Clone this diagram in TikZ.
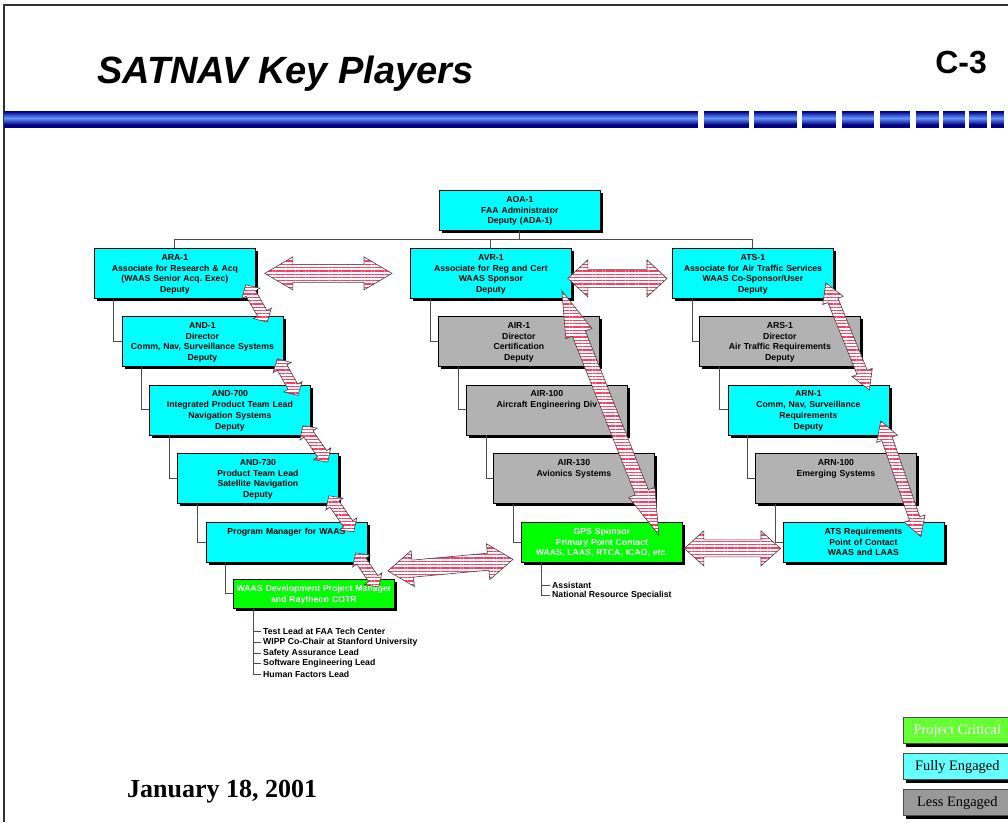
\documentclass[tikz,border=0pt]{standalone}
\usepackage{fontspec}
\setmainfont{Liberation Sans}
\newfontfamily\romanfont{Liberation Serif}
\frenchspacing
\usetikzlibrary{calc,shadows,patterns.meta}

\definecolor{boxcyan}{RGB}{0,255,255}
\definecolor{boxgray}{RGB}{178,178,178}
\definecolor{boxgreen}{RGB}{0,255,0}
\definecolor{legendgreen}{RGB}{102,255,51}
\definecolor{legendcyan}{RGB}{102,255,255}
\definecolor{legendgray}{RGB}{153,153,153}
\definecolor{bardark}{RGB}{0,0,128}
\definecolor{barlight}{RGB}{100,150,255}
\definecolor{stripecol}{RGB}{255,60,95}

\tikzset{
  orgbox/.style={draw=black, line width=0.8pt, anchor=north west, inner xsep=0pt, inner ysep=0pt,
    text width=161pt, align=center, text height=12pt,
    font=\fontsize{8.7}{10.7}\selectfont\bfseries,
    drop shadow={shadow xshift=3pt, shadow yshift=-3pt, fill=black, opacity=1}},
  tallbox/.style={orgbox, text depth=38pt},
  midbox/.style={orgbox, text depth=28pt},
  lowbox/.style={orgbox, text depth=17pt},
  orgline/.style={draw=black!70, line width=1pt},
  listitem/.style={anchor=west, inner xsep=2pt, inner ysep=0.5pt, font=\fontsize{8.7}{10.7}\selectfont\bfseries},
  legendbox/.style={draw=black!70, line width=0.6pt, anchor=north west, minimum width=108pt, minimum height=26pt,
    inner sep=0pt, font=\romanfont\fontsize{14.4}{16}\selectfont,
    drop shadow={shadow xshift=3pt, shadow yshift=-3pt, fill=black, opacity=1}},
  stripes/.style={draw=black!75, line width=0.6pt, preaction={fill=white},
    pattern={Lines[angle=0, distance=3.3pt, line width=1.3pt]}, pattern color=stripecol}
}

% two headed block arrow: start, end, head length, head half width, shaft half width
\newcommand{\stripedarrow}[5]{%
  \coordinate (hA) at ($(#1)!#3!(#2)$);
  \coordinate (hB) at ($(#2)!#3!(#1)$);
  \draw[stripes] (#1) -- ($(hA)!#4!90:(#2)$) -- ($(hA)!#5!90:(#2)$)
    -- ($(hB)!#5!-90:(#1)$) -- ($(hB)!#4!-90:(#1)$) -- (#2)
    -- ($(hB)!#4!90:(#1)$) -- ($(hB)!#5!90:(#1)$)
    -- ($(hA)!#5!-90:(#2)$) -- ($(hA)!#4!-90:(#2)$) -- cycle;}

\begin{document}
\begin{tikzpicture}[x=1pt, y=-1pt]
  \useasboundingbox (0,0) rectangle (1008,822);

  % frame and header
  \draw[black!80, line width=1.2pt] (4,822) -- (4,5) -- (1012,5);
  \node[anchor=base west, inner sep=0pt] (title) at (97,83) {\fontsize{38}{40}\selectfont\bfseries\itshape SATNAV Key Players};
  \node[anchor=base east, inner sep=0pt] (pagenum) at (987,73) {\fontsize{32}{34}\selectfont\bfseries C-3};
  % header bar, dark at the edges and light in the middle
  \foreach \i in {0,...,16}{
    \pgfmathsetmacro{\p}{max(0,100-15*abs(\i-7))}
    \fill[barlight!\p!bardark] (4,111+\i) rectangle (698,112+\i); %long bar
    \foreach \a/\b in {704/749, 754/797, 802/836, 842/874, 880/910, 916/939, 943/965, 969/987, 991/1004}
      \fill[barlight!\p!bardark] (\a,111+\i) rectangle (\b,112+\i);
  }

  % top of the tree
  \node[midbox, fill=boxcyan] (aoa) at (439,190) {AOA-1\\FAA Administrator\\Deputy (ADA-1)};
  \node[tallbox, fill=boxcyan] (ara) at (94,248) {ARA-1\\Associate for Research \& Acq\\(WAAS Senior Acq. Exec)\\Deputy};
  \node[tallbox, fill=boxcyan] (avr) at (410,248) {AVR-1\\Associate for Reg and Cert\\WAAS Sponsor\\Deputy};
  \node[tallbox, fill=boxcyan] (ats) at (672,248) {ATS-1\\Associate for Air Traffic Services\\WAAS Co-Sponsor/User\\Deputy};

  % left column
  \node[tallbox, fill=boxcyan] (and1) at (121.5,316) {AND-1\\Director\\Comm, Nav, Surveillance Systems\\Deputy};
  \node[tallbox, fill=boxcyan] (and700) at (149,384.5) {AND-700\\Integrated Product Team Lead\\Navigation Systems\\Deputy};
  \node[tallbox, fill=boxcyan] (and730) at (177,453) {AND-730\\Product Team Lead\\Satellite Navigation\\Deputy};
  \node[midbox, fill=boxcyan] (pm) at (205.5,522) {Program Manager for WAAS};
  \node[lowbox, fill=boxgreen, text=white] (waas) at (233,579) {WAAS Development Project Manager\\and Raytheon COTR};

  % middle column
  \node[tallbox, fill=boxgray] (air1) at (438,316) {AIR-1\\Director\\Certification\\Deputy};
  \node[tallbox, fill=boxgray] (air100) at (466,384.5) {AIR-100\\Aircraft Engineering Div};
  \node[tallbox, fill=boxgray] (air130) at (493,453) {AIR-130\\Avionics Systems};
  \node[midbox, fill=boxgreen, text=white] (gps) at (521,522) {GPS Sponsor\\Primary Point Contact\\WAAS, LAAS, RTCA, ICAO, etc.};

  % right column
  \node[tallbox, fill=boxgray] (ars1) at (699,316) {ARS-1\\Director\\Air Traffic Requirements\\Deputy};
  \node[tallbox, fill=boxcyan] (arn1) at (727.5,384.5) {ARN-1\\Comm, Nav, Surveillance\\Requirements\\Deputy};
  \node[tallbox, fill=boxgray] (arn100) at (755,453) {ARN-100\\Emerging Systems};
  \node[midbox, fill=boxcyan] (atsreq) at (782.5,522) {ATS Requirements\\Point of Contact\\WAAS and LAAS};

  % tree lines
  \draw[orgline] (aoa.south) -- ++(0,9) coordinate (bus);
  \draw[orgline] (ara.north) |- (bus) -| (ats.north);
  \draw[orgline] (avr.north) -- (avr.north |- bus);
  \draw[orgline] ($(ara.south west)+(19,0)$) |- (and1.west);
  \draw[orgline] ($(and1.south west)+(20,0)$) |- (and700.west);
  \draw[orgline] ($(and700.south west)+(20,0)$) |- (and730.west);
  \draw[orgline] ($(and730.south west)+(20,0)$) |- (pm.west);
  \draw[orgline] ($(pm.south west)+(20,0)$) |- (waas.west);
  \draw[orgline] ($(avr.south west)+(20,0)$) |- (air1.west);
  \draw[orgline] ($(air1.south west)+(20,0)$) |- (air100.west);
  \draw[orgline] ($(air100.south west)+(20,0)$) |- (air130.west);
  \draw[orgline] ($(air130.south west)+(20,0)$) |- (gps.west);
  \draw[orgline] ($(ats.south west)+(20,0)$) |- (ars1.west);
  \draw[orgline] ($(ars1.south west)+(20,0)$) |- (arn1.west);
  \draw[orgline] ($(arn1.south west)+(20,0)$) |- (arn100.west);
  \draw[orgline] ($(arn100.south west)+(20,0)$) |- (atsreq.west);

  % staff lists
  \node[listitem] (assist) at (550,585) {Assistant};
  \node[listitem] (natres) at (550,595) {National Resource Specialist};
  \draw[orgline, line width=0.8pt] ($(gps.south west)+(20,0)$) |- (natres.west);
  \draw[orgline, line width=0.8pt] (assist.west) -| ($(gps.south west)+(20,0)$);

  \node[listitem] (test) at (261,631.7) {Test Lead at FAA Tech Center};
  \node[listitem] (wipp) at (261,642.3) {WIPP Co-Chair at Stanford University};
  \node[listitem] (safety) at (261,652.9) {Safety Assurance Lead};
  \node[listitem] (soft) at (261,663.5) {Software Engineering Lead};
  \node[listitem] (human) at (261,674.1) {Human Factors Lead};
  \draw[orgline, line width=0.8pt] ($(waas.south west)+(20,0)$) |- (human.west);
  \foreach \n in {test, wipp, safety, soft}
    \draw[orgline, line width=0.8pt] (\n.west) -| ($(waas.south west)+(20,0)$);

  % striped arrows
  \coordinate (araR) at ($(ara.east)+(9,0)$);
  \coordinate (avrL) at ($(avr.west)+(-18,0)$);
  \stripedarrow{araR}{avrL}{28pt}{16.5pt}{9pt}
  \coordinate (avrR) at ($(avr.east)+(-4,5)$);
  \coordinate (atsL) at ($(ats.west)+(-5,5)$);
  \stripedarrow{avrR}{atsL}{20pt}{18.5pt}{9pt}
  \coordinate (gpsR) at ($(gps.east)+(1.5,6)$);
  \coordinate (reqL) at ($(atsreq.west)+(-2,6)$);
  \stripedarrow{gpsR}{reqL}{19.5pt}{17.5pt}{8.5pt}
  \coordinate (waasR) at ($(waas.east)+(-7,-23)$);
  \coordinate (gpsL) at ($(gps.west)+(-8,17)$);
  \stripedarrow{waasR}{gpsL}{25pt}{18pt}{8.5pt}
  \coordinate (avrB) at ($(avr.south east)+(-10,-8)$);
  \coordinate (gpsT) at ($(gps.north east)+(-24,13)$);
  \stripedarrow{avrB}{gpsT}{46pt}{14pt}{7pt}

  % down the left stairs
  \coordinate (s1) at ($(ara.south east)+(-10,-14)$);
  \coordinate (e1) at ($(and1.north east)+(-16,6)$);
  \stripedarrow{s1}{e1}{10pt}{10.5pt}{5.5pt}
  \coordinate (s2) at ($(and1.south east)+(-6,-8)$);
  \coordinate (e2) at ($(and700.north east)+(-13,11)$);
  \stripedarrow{s2}{e2}{10pt}{10.5pt}{5.5pt}
  \coordinate (s3) at ($(and700.south east)+(-8,-9.5)$);
  \coordinate (e3) at ($(and730.north east)+(-11,9)$);
  \stripedarrow{s3}{e3}{10pt}{10.5pt}{5.5pt}
  \coordinate (s4) at ($(and730.south east)+(-10,-8)$);
  \coordinate (e4) at ($(pm.north east)+(-13.5,10)$);
  \stripedarrow{s4}{e4}{10pt}{10.5pt}{5.5pt}
  \coordinate (s5) at ($(pm.south east)+(-11.5,-10)$);
  \coordinate (e5) at ($(waas.north east)+(-16,8)$);
  \stripedarrow{s5}{e5}{10pt}{10.5pt}{5.5pt}

  % down the right stairs
  \coordinate (s6) at ($(ats.south east)+(-8,-16)$);
  \coordinate (e6) at ($(arn1.north east)+(-20,5.5)$);
  \stripedarrow{s6}{e6}{19pt}{11pt}{5.5pt}
  \coordinate (s7) at ($(arn1.south east)+(-8.5,-14.5)$);
  \coordinate (e7) at ($(atsreq.north east)+(-23.5,14.5)$);
  \stripedarrow{s7}{e7}{19pt}{11pt}{5.5pt}

  % legend and date
  \node[legendbox, fill=legendgreen, text=white] (critical) at (903,717.3) {Project Critical};
  \node[legendbox, fill=legendcyan] (fully) at (903,753.3) {Fully Engaged};
  \node[legendbox, fill=legendgray] (less) at (903,789.3) {Less Engaged};
  \node[anchor=base west, inner sep=0pt] (date) at (127,797) {\romanfont\fontsize{26}{28}\selectfont\bfseries January 18, 2001};
\end{tikzpicture}
\end{document}
